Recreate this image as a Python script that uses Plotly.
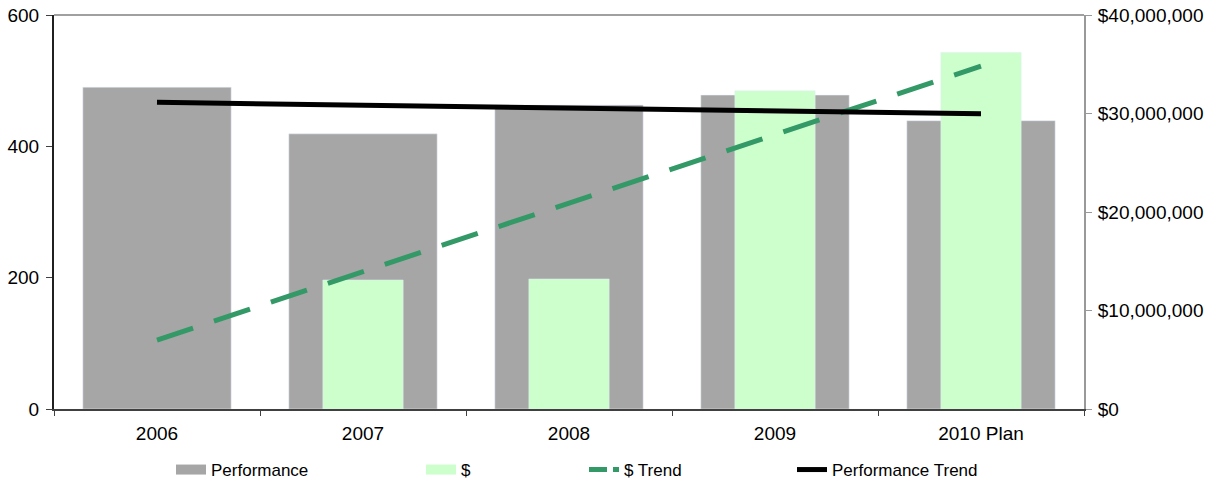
import plotly.graph_objects as go

categories = ["2006", "2007", "2008", "2009", "2010 Plan"]
performance = [490, 419, 463, 478, 439]
dollars = [None, 13100000, 13200000, 32300000, 36200000]
dollar_trend = [7000000, 13950000, 20900000, 27850000, 34800000]
performance_trend = [467, 462.7, 458.4, 454.1, 449.8]

GREY = "#A6A6A6"
GREEN = "#CCFFCC"
TREND_GREEN = "#339966"
FONT = "Liberation Sans, Arial, sans-serif"

fig = go.Figure()

fig.add_trace(go.Bar(x=categories, y=performance, name="Performance", marker_color=GREY,
                     width=0.72, showlegend=False, yaxis="y"))
fig.add_trace(go.Bar(x=categories, y=dollars, name="$", marker_color=GREEN,
                     width=0.39, showlegend=False, yaxis="y2"))
fig.add_trace(go.Scatter(x=categories, y=dollar_trend, name="$ Trend", mode="lines",
                         line=dict(color=TREND_GREEN, width=5, dash="38px,22px"),
                         yaxis="y2", showlegend=False))
fig.add_trace(go.Scatter(x=categories, y=performance_trend, name="Performance Trend", mode="lines",
                         line=dict(color="black", width=5), yaxis="y3", showlegend=False))

# legend-only entries
legend_items = [
    ("Performance", dict(color=GREY, width=12), "legend", 212),
    ("$", dict(color=GREEN, width=12), "legend2", 462),
    ("$ Trend", dict(color=TREND_GREEN, width=5, dash="18px,6px"), "legend3", 625),
    ("Performance Trend", dict(color="black", width=5), "legend4", 833),
]
for name, line, lg, _ in legend_items:
    fig.add_trace(go.Scatter(x=[None], y=[None], mode="lines", name=name, line=line,
                             legend=lg, showlegend=True, hoverinfo="skip"))

W = 1217
legend_layouts = {}
for name, line, lg, tx in legend_items:
    legend_layouts[lg] = dict(xref="container", yref="container", x=(tx - 41) / W,
                              xanchor="left", y=(482 - 470) / 482, yanchor="middle",
                              font=dict(family=FONT, size=17, color="black"),
                              bgcolor="rgba(0,0,0,0)", borderwidth=0, orientation="h")

TICKFONT = dict(family=FONT, size=19, color="black")

fig.update_layout(
    width=1217, height=482,
    margin=dict(l=54, r=133, t=15, b=73, autoexpand=False),
    paper_bgcolor="white", plot_bgcolor="white",
    barmode="overlay",
    font=dict(family=FONT, size=19, color="black"),
    xaxis=dict(type="category", showgrid=False, showline=True, linecolor="#404040", linewidth=2,
               ticks="outside", tickson="boundaries", ticklen=5, tickcolor="#404040",
               tickfont=TICKFONT, zeroline=False, automargin=False, ticklabelstandoff=6),
    yaxis=dict(range=[0, 600], tickvals=[0, 200, 400, 600], showgrid=False, showline=True,
               linecolor="#202020", linewidth=2, ticks="outside", ticklen=6, tickcolor="#404040",
               tickfont=TICKFONT, zeroline=False, automargin=False, ticklabelstandoff=3),
    yaxis2=dict(range=[0, 40000000], tickvals=[0, 10000000, 20000000, 30000000, 40000000],
                tickformat="$,.0f", overlaying="y", side="right", showgrid=False, showline=True,
                linecolor="#999999", linewidth=2, ticks="outside", ticklen=6, tickcolor="#999999",
                tickfont=TICKFONT, zeroline=False, automargin=False, ticklabelstandoff=2),
    yaxis3=dict(range=[0, 600], overlaying="y", visible=False, showgrid=False, zeroline=False,
                automargin=False),
    shapes=[dict(type="line", xref="paper", yref="paper", x0=0, x1=1, y0=1, y1=1,
                 line=dict(color="#A0A0A0", width=2))],
    **legend_layouts,
)

fig.write_html("out.html", config={"displayModeBar": False},
               post_script="document.body.style.margin='0px';")
